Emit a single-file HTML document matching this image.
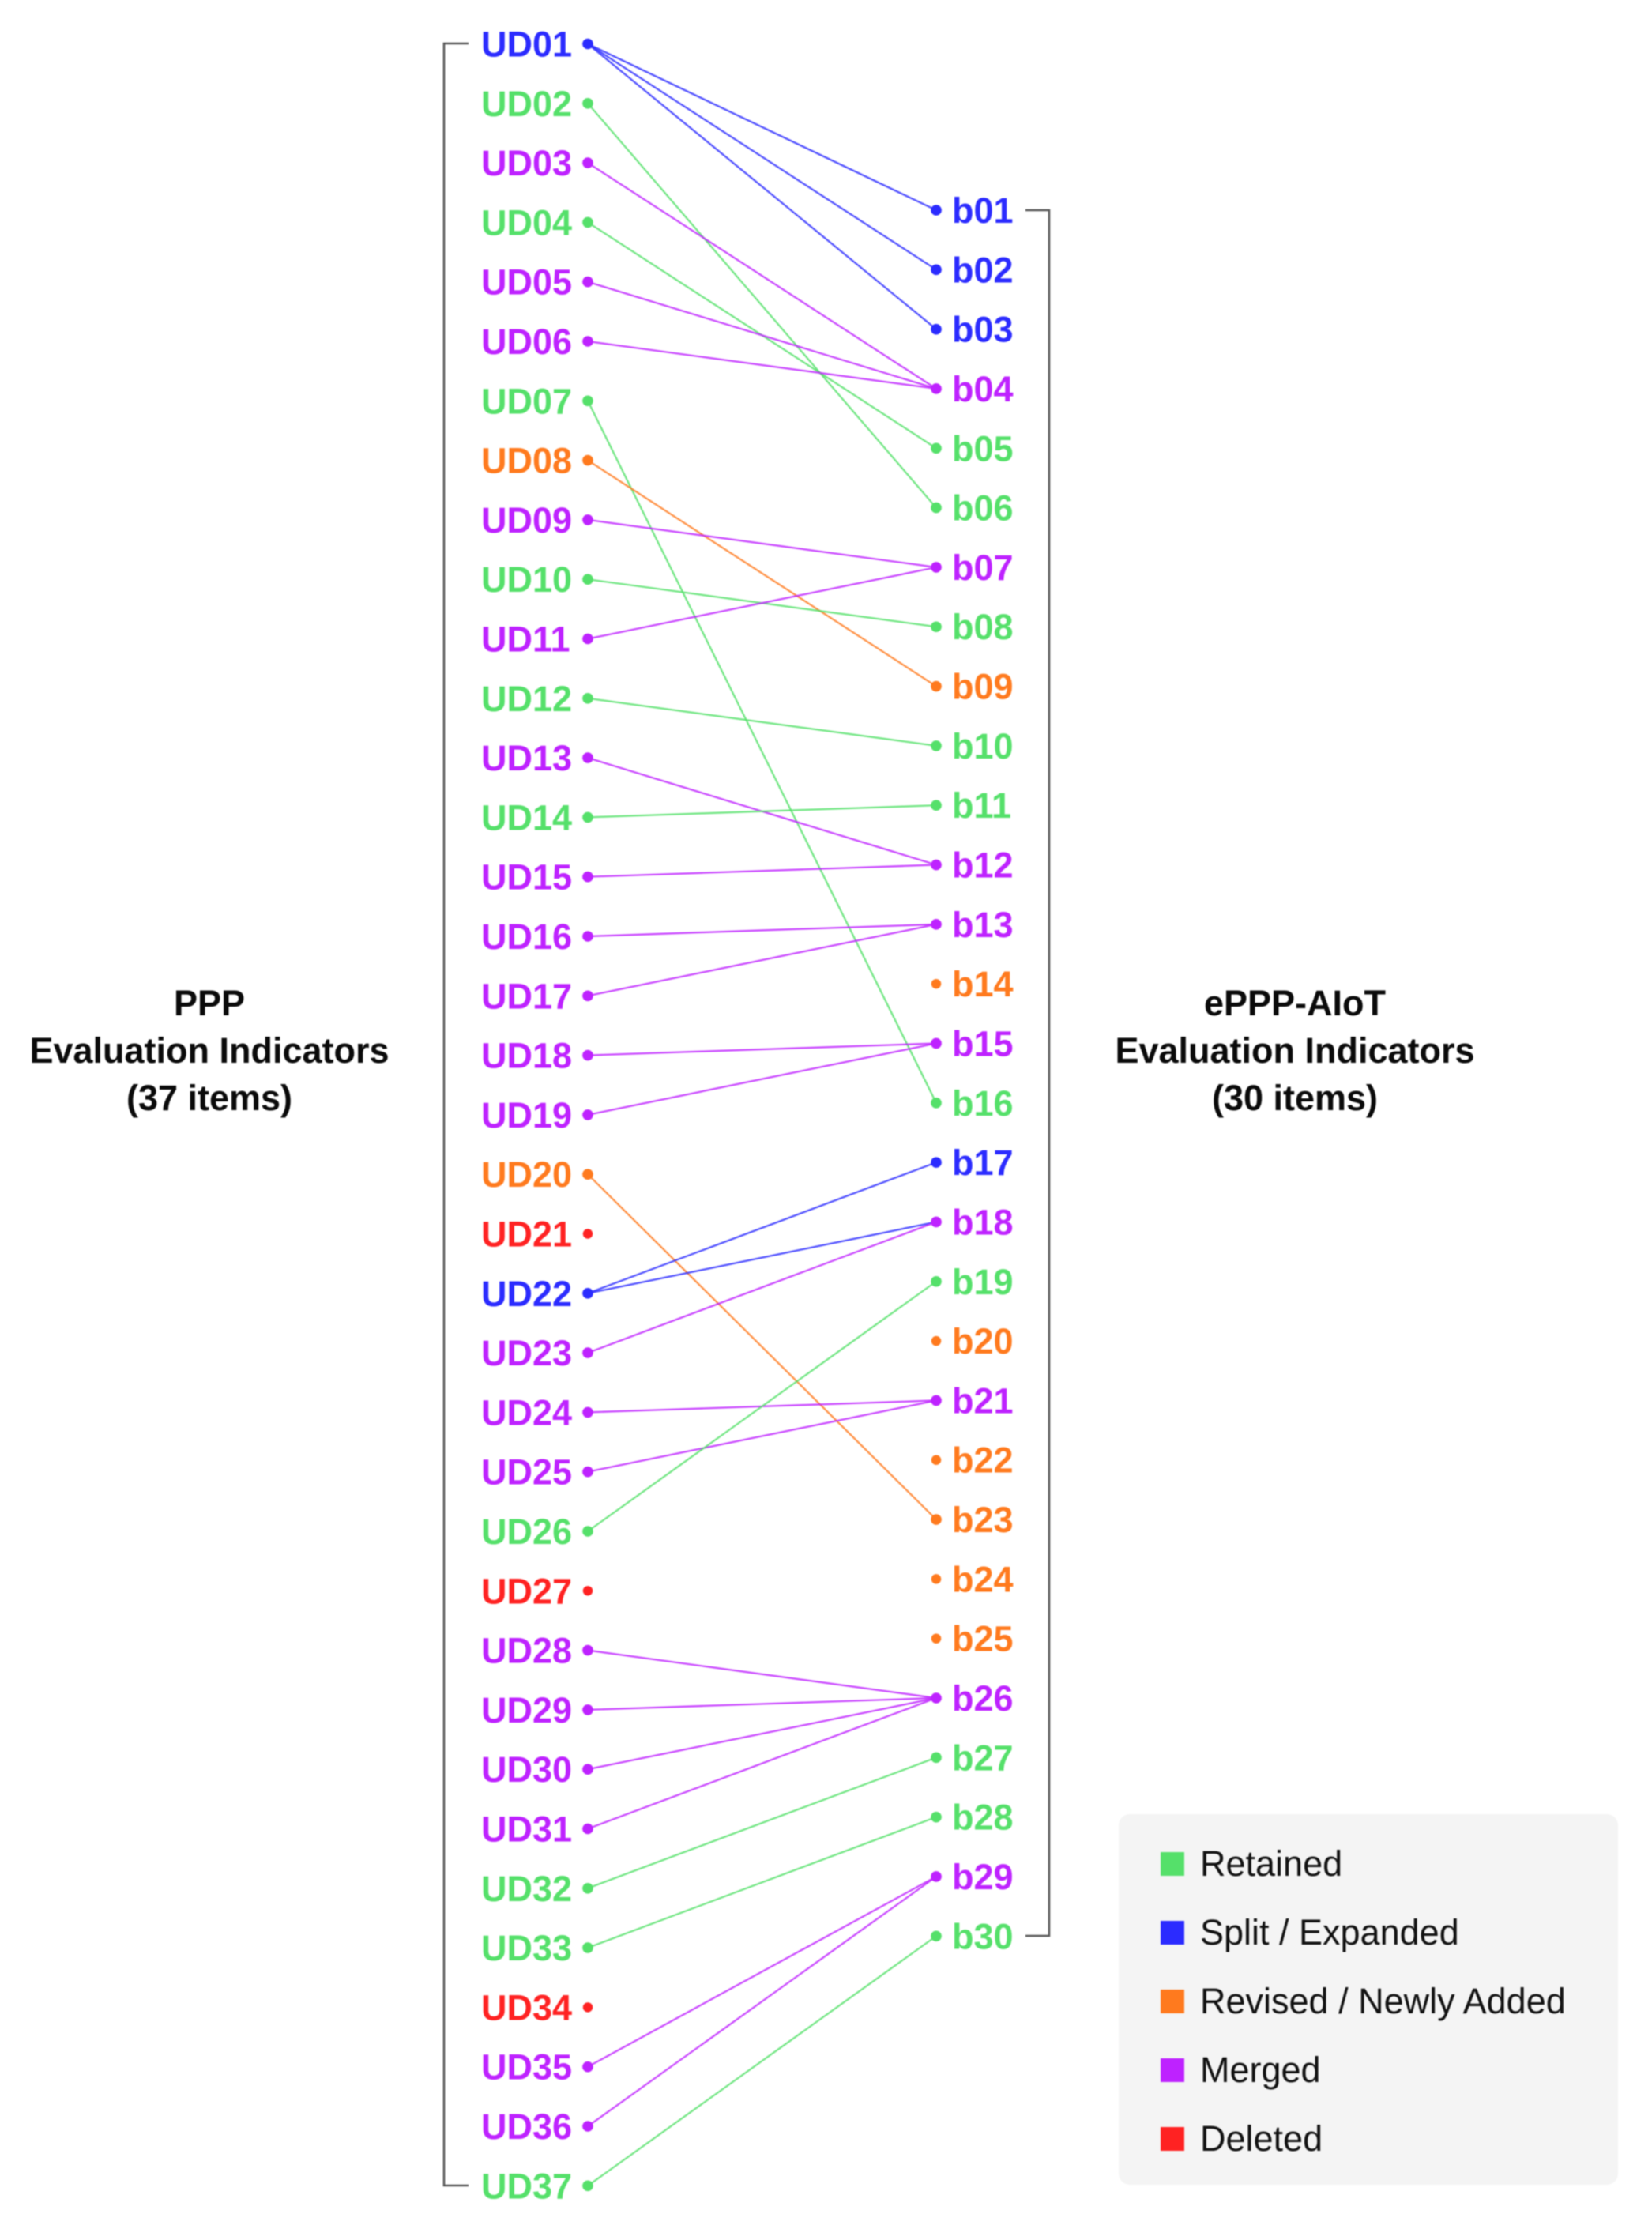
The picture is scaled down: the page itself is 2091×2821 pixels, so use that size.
<!DOCTYPE html>
<html lang="en">
<head>
<meta charset="utf-8">
<title>PPP to ePPP-AIoT Evaluation Indicator Mapping</title>
<style>
html,body{margin:0;padding:0;background:#fff;width:2091px;height:2821px;overflow:hidden}
svg{display:block;filter:blur(0.7px)}
text{font-family:"Liberation Sans",sans-serif}
</style>
</head>
<body>
<svg id="chart" xmlns="http://www.w3.org/2000/svg" width="2091" height="2821" viewBox="0 0 2091 2821">
  <rect width="2091" height="2821" fill="#fff"/>
  <g id="titles" font-size="45" font-weight="bold" fill="#0a0a0a" text-anchor="middle">
    <text x="265" y="1285">PPP</text>
    <text x="265" y="1345">Evaluation Indicators</text>
    <text x="265" y="1405">(37 items)</text>
    <text x="1639" y="1285">ePPP-AIoT</text>
    <text x="1639" y="1345">Evaluation Indicators</text>
    <text x="1639" y="1405">(30 items)</text>
  </g>
  <path d="M593 55H562V2766H593" fill="none" stroke="#555" stroke-width="2.5"/>
  <path d="M1298 266H1328V2450H1298" fill="none" stroke="#555" stroke-width="2.5"/>
  <g id="links" fill="none" stroke-width="2.2" stroke-opacity="0.85"></g>
  <g id="left-nodes"></g>
  <g id="right-nodes"></g>
  <g>
    <rect x="1416" y="2296" width="632" height="469" rx="14" fill="#f4f4f4"/>
    <g id="legend-entries"></g>
  </g>
</svg>
<script>
const categories = ['Retained', 'Split / Expanded', 'Revised / Newly Added', 'Merged', 'Deleted'];
const categoryColors = ['#55e06a', '#2b2bff', '#ff7a1e', '#be22ff', '#ff2222'];
// status codes index into categories: 0 retained, 1 split, 2 revised, 3 merged, 4 deleted
const leftStatus = [1,0,3,0,3,3,0,2,3,0,3,0,3,0,3,3,3,3,3,2,4,1,3,3,3,0,4,3,3,3,3,0,0,4,3,3,0];
const rightStatus = [1,1,1,3,0,0,3,0,2,0,0,3,3,2,3,0,1,3,0,2,3,2,2,2,2,3,0,0,3,0];
const linkFrom = [1,1,1,2,3,4,5,6,7,8,9,10,11,12,13,14,15,16,17,18,19,20,22,22,23,24,25,26,28,29,30,31,32,33,35,36,37];
const linkTo = [1,2,3,6,4,5,4,4,16,9,7,8,7,10,12,11,12,13,13,15,15,23,17,18,18,21,21,19,26,26,26,26,27,28,29,29,30];

const NS = 'http://www.w3.org/2000/svg';
function leftY(n){ return 55.5 + (n - 1) * 75.3; }
function rightY(n){ return 266 + (n - 1) * 75.32; }
const leftDotX = 744, rightDotX = 1185;
function pad(n){ return String(n).padStart(2, '0'); }
function make(tag, attrs){
  const el = document.createElementNS(NS, tag);
  for (const k in attrs) el.setAttribute(k, attrs[k]);
  return el;
}
const linksG = document.getElementById('links');
linkFrom.forEach(function(from, i){
  const to = linkTo[i];
  const line = make('line', {x1: leftDotX, y1: leftY(from), x2: rightDotX, y2: rightY(to), stroke: categoryColors[leftStatus[from - 1]]});
  
  
  linksG.appendChild(line);
});
const connectedLeft = new Set(linkFrom);
const connectedRight = new Set(linkTo);
function drawNode(group, prefix, n, y, dotX, labelX, color, connected){
  const dot = make('circle', {cx: dotX, cy: y, r: connected ? 6.8 : 6.2, fill: color});
  
  
  group.appendChild(dot);
  const label = make('text', {x: labelX, y: y + 16, fill: color, 'font-size': 45, 'font-weight': 'bold'});
  
  
  label.textContent = prefix + pad(n);
  group.appendChild(label);
}
const leftG = document.getElementById('left-nodes');
leftStatus.forEach(function(s, i){
  drawNode(leftG, 'UD', i + 1, leftY(i + 1), leftDotX, 609, categoryColors[s], connectedLeft.has(i + 1));
});
const rightG = document.getElementById('right-nodes');
rightStatus.forEach(function(s, i){
  drawNode(rightG, 'b', i + 1, rightY(i + 1), rightDotX, 1205, categoryColors[s], connectedRight.has(i + 1));
});
const legendG = document.getElementById('legend-entries');
categories.forEach(function(c, i){
  const y = 2359 + i * 87;
  const sw = make('rect', {x: 1469, y: y - 15, width: 30, height: 30, fill: categoryColors[i]});
  
  
  legendG.appendChild(sw);
  const t = make('text', {x: 1519, y: y + 15, fill: '#111', 'font-size': 45});
  
  
  t.textContent = c;
  legendG.appendChild(t);
});
</script>
</body>
</html>
